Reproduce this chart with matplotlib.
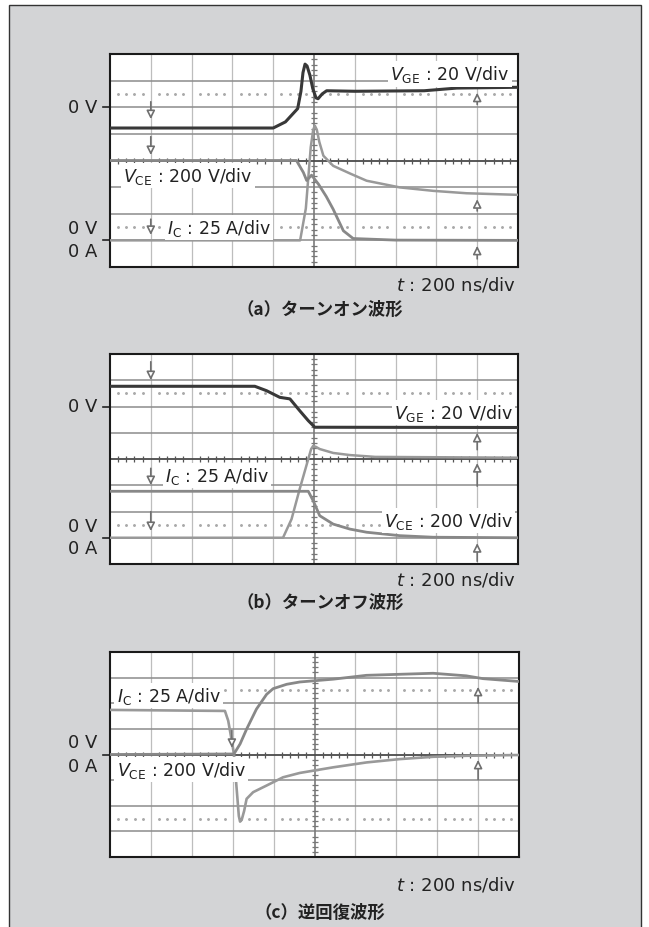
import numpy as np
import matplotlib
matplotlib.use("Agg")
import matplotlib.pyplot as plt
from matplotlib.patches import Rectangle
from matplotlib.lines import Line2D

plt.rcParams['font.family'] = ['DejaVu Sans']
plt.rcParams['mathtext.fontset'] = 'dejavusans'
JP = ['Noto Sans CJK JP', 'DejaVu Sans']

# ---- traces in divisions (x: 0..10, y: -4..4) ----
# (a) turn-on
a_vge_t = [0, 4.0, 4.3, 4.6, 4.68, 4.73, 4.78, 4.83, 4.9, 4.97, 5.05, 5.1, 5.2, 5.31,
           6.0, 7.7, 8.5, 10]
a_vge_v = [1.22, 1.22, 1.45, 1.95, 2.6, 3.3, 3.62, 3.55, 3.2, 2.7, 2.35, 2.32, 2.5,
           2.62, 2.6, 2.62, 2.72, 2.75]
a_vce_t = [0, 4.57, 4.74, 4.82, 4.94, 5.11, 5.3, 5.47, 5.72, 5.96, 7.0, 10]
a_vce_v = [0, 0, -0.45, -0.75, -0.55, -0.89, -1.35, -1.83, -2.64, -2.93, -2.99, -3.0]
a_ic_t = [0, 4.66, 4.8, 4.92, 4.98, 5.02, 5.07, 5.13, 5.23, 5.47, 5.9, 6.29, 7.1,
          7.92, 8.74, 10]
a_ic_v = [-3.0, -3.0, -1.8, 0.5, 1.15, 1.31, 1.15, 0.7, 0.18, -0.2, -0.5, -0.76,
          -1.01, -1.14, -1.23, -1.29]

# (b) turn-off
b_vge_t = [0, 3.55, 3.84, 4.16, 4.41, 4.65, 4.86, 5.02, 10]
b_vge_v = [2.77, 2.77, 2.6, 2.35, 2.29, 1.84, 1.46, 1.21, 1.2]
b_vce_t = [0, 4.24, 4.45, 4.65, 4.86, 4.93, 4.98, 5.05, 5.14, 5.47, 5.88, 6.5, 10]
b_vce_v = [-3.0, -3.0, -2.29, -1.14, 0.0, 0.38, 0.5, 0.46, 0.38, 0.23, 0.15, 0.08, 0.05]
b_ic_t = [0, 4.86, 4.98, 5.14, 5.47, 5.88, 6.29, 7.1, 7.92, 10]
b_ic_v = [-1.23, -1.23, -1.59, -2.16, -2.48, -2.67, -2.79, -2.92, -2.98, -3.0]

# (c) reverse recovery
c_ic_t = [0, 2.81, 2.89, 2.97, 3.03, 3.09, 3.15, 3.18, 3.22, 3.28, 3.34, 3.5, 3.83,
          4.23, 4.64, 5.46, 6.27, 7.08, 7.9, 8.71, 10]
c_ic_v = [1.74, 1.70, 1.32, 0.60, 0.02, -1.21, -2.4, -2.62, -2.55, -2.2, -1.73, -1.47,
          -1.21, -0.89, -0.72, -0.50, -0.31, -0.18, -0.09, -0.05, -0.02]
c_vce_t = [0, 3.03, 3.18, 3.34, 3.58, 3.83, 3.99, 4.32, 4.64, 5.46, 6.27, 7.08, 7.9,
           8.71, 9.12, 10]
c_vce_v = [0, 0.02, 0.41, 0.99, 1.77, 2.35, 2.57, 2.74, 2.83, 2.94, 3.09, 3.13, 3.17,
           3.07, 2.96, 2.85]

# cursor markers: (x, tail y, tip y)
a_marks = [(1, 2.31, 1.45), (1, 1.0, 0.1), (1, -2.1, -2.9),
           (9, 2.0, 2.65), (9, -2.0, -1.35), (9, -3.8, -3.1)]
b_marks = [(1, 3.81, 2.9), (1, -0.25, -1.1), (1, -1.9, -2.85),
           (9, 0.25, 1.1), (9, -1.14, -0.05), (9, -4.0, -3.1)]
c_marks = [(2.98, 1.05, 0.15), (9, 1.9, 2.75), (9, -1.08, -0.1)]

zero_ticks = {'a': [2, -3], 'b': [2, -3], 'c': [0]}
captions = ['（a）ターンオン波形', '（b）ターンオフ波形', '（c）逆回復波形']

W, H = 649, 928
fig = plt.figure(figsize=(W / 100, H / 100), dpi=100)
fig.patch.set_facecolor('white')
fig.patches.append(Rectangle((9 / W, -0.01), 632 / W, 1 - 6 / H + 0.01,
                             transform=fig.transFigure, fc='#d3d4d6', ec='#333333',
                             lw=1.0, zorder=-10))

# panel boxes in pixels: (left, top, right, bottom)
boxes = [(110, 55, 518, 268), (110, 355, 518, 565), (110, 653, 519, 858)]
DARK = '#383838'
GRAY = '#888888'
TXT = '#222222'


def make_panel(box):
    l, t, r, b = box
    ax = fig.add_axes([l / W, 1 - b / H, (r - l) / W, (b - t) / H])
    ax.set_xlim(0, 10)
    ax.set_ylim(-4, 4)
    ax.set_xticks([])
    ax.set_yticks([])
    ax.set_facecolor('white')
    for s in ax.spines.values():
        s.set_linewidth(1.5)
        s.set_color('#1a1a1a')
    for x in range(1, 10):
        if x != 5:
            ax.axvline(x, color='#bdbdbd', lw=0.9, zorder=1)
    for y in range(-3, 4):
        if y != 0:
            ax.axhline(y, color='#8c8c8c', lw=1.1, zorder=1)
    ax.axvline(5, color='#7a7a7a', lw=1.2, zorder=1)
    ax.axhline(0, color='#4a4a4a', lw=1.3, zorder=1)
    minor = [v for v in np.arange(0.2, 10, 0.2) if abs(v - round(v)) > 0.05]
    ax.plot(minor, [0] * len(minor), '|', color='#555555', ms=5, mew=0.9, zorder=1)
    vminor = [v for v in np.arange(-3.8, 4, 0.2) if abs(v - round(v)) > 0.05]
    ax.plot([5] * len(vminor), vminor, '_', color='#777777', ms=5, mew=0.9, zorder=1)
    for yd in (2.5, -2.5):
        ax.plot(minor, [yd] * len(minor), '.', color='#aaaaaa', ms=2.2, zorder=1)
    return ax


def label(ax, x, y, sub, scale, ha='left'):
    s = r'$V_{\mathrm{%s}}$' % sub if sub != 'C' else r'$I_{\mathrm{C}}$'
    ax.text(x, y, s + ' : ' + scale, ha=ha, va='center', fontsize=12.5, color=TXT,
            bbox=dict(fc='white', ec='none', pad=1.5), zorder=6)


def marks(ax, lst):
    for x, y0, y1 in lst:
        ax.annotate('', xy=(x, y1), xytext=(x, y0),
                    arrowprops=dict(arrowstyle='-|>,head_width=0.25,head_length=0.5',
                                    fc='white', ec='#6f6f6f', lw=1.2), zorder=5)


def zero_labels(ax, ys, box, pair):
    l, t, r, b = box
    for y in ys:
        ax.add_line(Line2D([-7 / (r - l) * 10, 0], [y, y], color=TXT, lw=1.2,
                           clip_on=False))
    kw = dict(ha='right', va='center', fontsize=13, color=TXT)
    if pair:
        ax.text(-0.3, ys[0], '0 V', **kw)
        ax.text(-0.3, ys[1] + 0.45, '0 V', **kw)
        ax.text(-0.3, ys[1] - 0.4, '0 A', **kw)
    else:
        ax.text(-0.3, ys[0] + 0.48, '0 V', **kw)
        ax.text(-0.3, ys[0] - 0.45, '0 A', **kw)


# (a)
ax = make_panel(boxes[0])
ax.plot(a_ic_t, a_ic_v, color='#999999', lw=1.8, zorder=3)
ax.plot(a_vce_t, a_vce_v, color=GRAY, lw=2.0, zorder=3)
ax.plot(a_vge_t, a_vge_v, color=DARK, lw=2.2, zorder=4)
marks(ax, a_marks)
label(ax, 9.8, 3.25, 'GE', '20 V/div', ha='right')
label(ax, 0.32, -0.57, 'CE', '200 V/div')
label(ax, 1.39, -2.52, 'C', '25 A/div')
zero_labels(ax, zero_ticks['a'], boxes[0], True)

# (b)
ax = make_panel(boxes[1])
ax.plot(b_vce_t, b_vce_v, color='#999999', lw=1.8, zorder=3)
ax.plot(b_ic_t, b_ic_v, color=GRAY, lw=2.0, zorder=3)
ax.plot(b_vge_t, b_vge_v, color=DARK, lw=2.2, zorder=4)
marks(ax, b_marks)
label(ax, 9.88, 1.78, 'GE', '20 V/div', ha='right')
label(ax, 1.35, -0.63, 'C', '25 A/div')
label(ax, 9.88, -2.35, 'CE', '200 V/div', ha='right')
zero_labels(ax, zero_ticks['b'], boxes[1], True)

# (c)
ax = make_panel(boxes[2])
ax.plot(c_ic_t, c_ic_v, color='#999999', lw=1.9, zorder=3)
ax.plot(c_vce_t, c_vce_v, color=GRAY, lw=2.0, zorder=3)
marks(ax, c_marks)
label(ax, 0.16, 2.29, 'C', '25 A/div')
label(ax, 0.16, -0.57, 'CE', '200 V/div')
zero_labels(ax, zero_ticks['c'], boxes[2], False)

# time base and captions
for (l, t, r, b), yt, yc, cap in zip(boxes, [285, 580, 885], [310, 603, 913], captions):
    fig.text(516 / W, 1 - yt / H, r'$t$ : 200 ns/div', ha='right', va='center',
             fontsize=13, color=TXT)
    fig.text(320 / W, 1 - yc / H, cap, ha='center', va='center', fontsize=12.5,
             family=JP, weight='bold', color=TXT)

fig.savefig('out.png', dpi=100)
